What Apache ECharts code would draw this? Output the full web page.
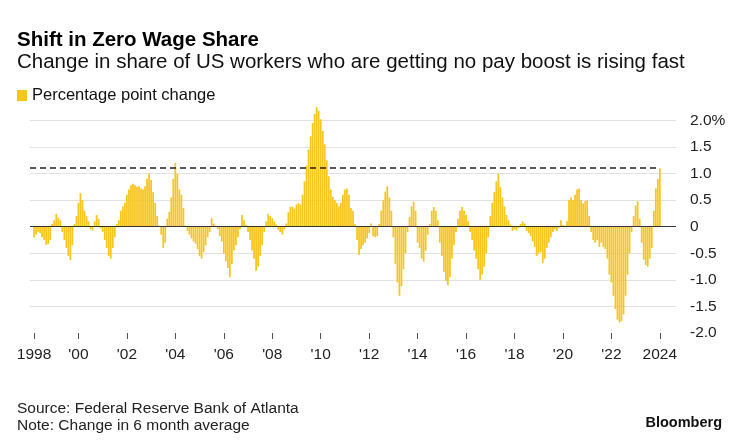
<!DOCTYPE html>
<html><head><meta charset="utf-8">
<script src="https://cdn.jsdelivr.net/npm/echarts@6/dist/echarts.min.js"></script>
<style>html,body{margin:0;padding:0;background:#fff}#c{width:739px;height:446px}</style>
</head><body><div id="c"></div>
<script>
// months counted from Jan 1998; first bar = Mar 1998, last = Jan 2024
const firstMonth = 2;
const values = [
 -0.2,-0.15,-0.1,-0.12,-0.2,-0.25,-0.34,-0.33,-0.25,0.05,
 0.12,0.24,0.17,0.12,-0.1,-0.25,-0.4,-0.55,-0.63,-0.35,
 0.05,0.2,0.45,0.63,0.5,0.3,0.2,0.1,-0.05,-0.07,
 0.1,0.22,0.15,-0.03,-0.1,-0.25,-0.4,-0.55,-0.6,-0.4,
 -0.2,0.05,0.12,0.3,0.38,0.45,0.6,0.7,0.78,0.81,
 0.78,0.75,0.76,0.72,0.7,0.76,0.9,1.0,0.88,0.65,
 0.45,0.2,0.02,-0.15,-0.4,-0.3,0.15,0.28,0.55,0.9,
 1.2,1.0,0.7,0.6,0.35,0.02,-0.08,-0.15,-0.22,-0.28,
 -0.32,-0.42,-0.55,-0.6,-0.48,-0.35,-0.2,-0.1,0.16,0.06,
 0.02,-0.05,-0.18,-0.28,-0.5,-0.65,-0.78,-0.95,-0.7,-0.45,
 -0.35,-0.2,-0.05,0.22,0.12,0.03,-0.1,-0.25,-0.45,-0.6,
 -0.83,-0.75,-0.55,-0.35,-0.1,0.1,0.24,0.2,0.16,0.1,
 0.04,-0.06,-0.1,-0.15,-0.05,0.06,0.27,0.37,0.38,0.34,
 0.42,0.44,0.42,0.6,0.85,1.15,1.45,1.7,1.95,2.12,
 2.25,2.18,2.02,1.8,1.55,1.25,0.95,0.7,0.56,0.5,
 0.45,0.38,0.45,0.6,0.7,0.72,0.6,0.35,0.3,0.05,
 -0.25,-0.53,-0.42,-0.35,-0.3,-0.22,-0.12,0.06,-0.18,-0.2,
 -0.18,0.05,0.3,0.5,0.66,0.76,0.55,0.3,-0.2,-0.7,
 -1.05,-1.3,-1.12,-0.8,-0.5,-0.1,0.18,0.38,0.47,0.3,
 -0.3,-0.4,-0.6,-0.66,-0.45,-0.15,0.05,0.3,0.37,0.3,
 0.12,-0.3,-0.55,-0.85,-1.02,-1.1,-0.95,-0.6,-0.35,-0.1,
 0.15,0.3,0.37,0.3,0.22,0.1,-0.1,-0.25,-0.45,-0.6,
 -0.8,-1.0,-0.9,-0.75,-0.5,-0.2,0.2,0.45,0.65,0.85,
 1.0,0.75,0.55,0.38,0.22,0.12,0.04,-0.08,-0.05,-0.07,
 -0.02,0.05,0.1,0.06,-0.08,-0.12,-0.18,-0.28,-0.38,-0.55,
 -0.5,-0.48,-0.68,-0.6,-0.4,-0.3,-0.2,-0.1,-0.05,-0.08,
 -0.02,0.12,0.03,0.02,0.1,0.5,0.55,0.5,0.6,0.7,
 0.72,0.5,0.44,0.48,0.5,0.2,-0.1,-0.25,-0.3,-0.25,
 -0.38,-0.3,-0.38,-0.42,-0.6,-0.9,-1.05,-1.3,-1.55,-1.75,
 -1.8,-1.78,-1.65,-1.3,-0.9,-0.5,-0.1,0.2,0.4,0.48,
 0.15,-0.3,-0.62,-0.72,-0.75,-0.6,-0.4,0.3,0.72,0.9,
 1.1
];
const tickMonths = [2,24,48,72,96,120,144,168,192,216,240,264,288,312];
const tickLabels = ['1998',"'00","'02","'04","'06","'08","'10","'12","'14","'16","'18","'20","'22",'2024'];
const latestLevel = 1.1;

const FONT = "'Liberation Sans', Arial, sans-serif";
const BAR = '#F7C51E';
const chart = echarts.init(document.getElementById('c'));
const barData = values.map((v, i) => [firstMonth + i, v]);
chart.setOption({
  animation: false,
  title: [
    {text: 'Shift in Zero Wage Share', left: 17, top: 30, padding: 0,
     textStyle: {fontFamily: FONT, fontSize: 20.5, fontWeight: 'bold', color: '#000'}},
    {text: 'Change in share of US workers who are getting no pay boost is rising fast', left: 17, top: 52, padding: 0,
     textStyle: {fontFamily: FONT, fontSize: 20.5, fontWeight: 'normal', color: '#111'}},
    {text: 'Source: Federal Reserve Bank of Atlanta', left: 17, top: 401, padding: 0,
     textStyle: {fontFamily: FONT, fontSize: 15.5, fontWeight: 'normal', color: '#222'}},
    {text: 'Note: Change in 6 month average', left: 17, top: 418, padding: 0,
     textStyle: {fontFamily: FONT, fontSize: 15.5, fontWeight: 'normal', color: '#222'}},
    {text: 'Bloomberg', right: 17, top: 415, padding: 0,
     textStyle: {fontFamily: FONT, fontSize: 14.5, fontWeight: 'bold', color: '#111'}}
  ],
  legend: {left: 17, top: 87, padding: 0, itemWidth: 10, itemHeight: 11, icon: 'rect', selectedMode: false,
    textStyle: {fontFamily: FONT, fontSize: 16.5, color: '#111'}, data: ['Percentage point change']},
  grid: {left: 30, right: 63, top: 93.8, bottom: 113},
  xAxis: {type: 'value', min: 0, max: 320,
    splitLine: {show: false}, axisLine: {show: false, onZero: false},
    axisTick: {show: true, customValues: tickMonths, length: 6, lineStyle: {color: '#555', width: 1}},
    axisLabel: {customValues: tickMonths, margin: 14, fontFamily: FONT, fontSize: 15.5, color: '#222',
      formatter: v => tickLabels[tickMonths.indexOf(v)] || ''}},
  yAxis: {type: 'value', position: 'right', min: -2, max: 2.5, interval: 0.5,
    axisLine: {show: false}, axisTick: {show: false},
    splitLine: {show: true, showMinLine: false, showMaxLine: false, lineStyle: {color: '#e2e2e2', width: 1}},
    axisLabel: {showMaxLabel: false, margin: 14, fontFamily: FONT, fontSize: 15.5, color: '#222',
      formatter: v => v === 0 ? '0' : (Math.abs(v - 2) < 1e-9 ? '2.0%' : v.toFixed(1))}},
  series: [{
    name: 'Percentage point change', type: 'bar', data: barData, barWidth: 1.75,
    itemStyle: {color: BAR},
    markLine: {silent: true, symbol: 'none', label: {show: false}, animation: false,
      data: [
        [{coord: [0, 0], lineStyle: {type: 'solid', color: '#333', width: 1.2}}, {coord: [320, 0]}],
        [{coord: [0, latestLevel], lineStyle: {type: [6, 4], color: '#222', width: 1.6}}, {coord: [312, latestLevel]}]
      ]}
  }]
});
</script></body></html>
